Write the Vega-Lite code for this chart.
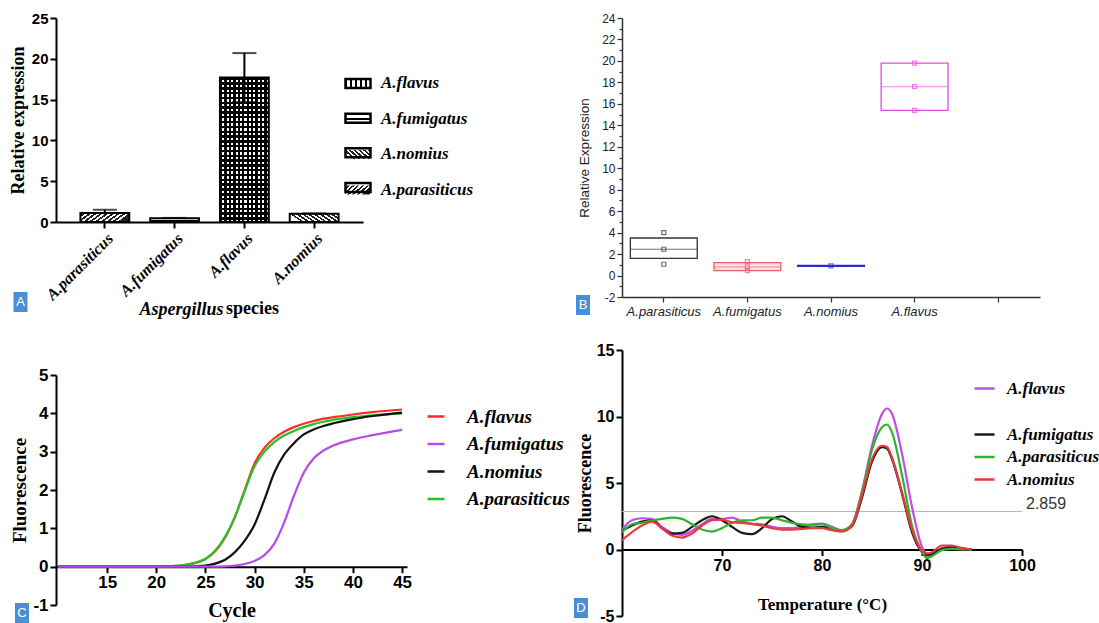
{
"$schema": "https://vega.github.io/schema/vega-lite/v6.json",
"background": "white",
"padding": {"left": 9, "top": 11, "right": 4, "bottom": 0},
"config": {"view": {"stroke": null}, "axis": {"grid": false, "domainColor": "black", "tickColor": "black", "labelColor": "black", "titleColor": "black", "labelFlush": false}, "legend": {"padding": 0, "titlePadding": 0}},
"datasets": {
"expr": [
{"species": "A.parasiticus", "mean": 1.1, "lo": 1.1, "hi": 1.5},
{"species": "A.fumigatus", "mean": 0.45, "lo": 0.45, "hi": 0.5},
{"species": "A.flavus", "mean": 17.7, "lo": 14.7, "hi": 20.7},
{"species": "A.nomius", "mean": 1.0, "lo": 1.0, "hi": 1.05}
],
"box": [
{"species": "A.parasiticus", "q1": 1.6, "median": 2.45, "q3": 3.5},
{"species": "A.fumigatus", "q1": 0.45, "median": 0.8, "q3": 1.2},
{"species": "A.nomius", "q1": 0.85, "median": 0.9, "q3": 0.95},
{"species": "A.flavus", "q1": 15.4, "median": 17.6, "q3": 19.8}
],
"boxpts": [
{"species": "A.parasiticus", "value": 4.0},
{"species": "A.parasiticus", "value": 2.45},
{"species": "A.parasiticus", "value": 1.05},
{"species": "A.fumigatus", "value": 1.3},
{"species": "A.fumigatus", "value": 0.8},
{"species": "A.fumigatus", "value": 0.45},
{"species": "A.nomius", "value": 0.9},
{"species": "A.flavus", "value": 19.8},
{"species": "A.flavus", "value": 17.6},
{"species": "A.flavus", "value": 15.4}
],
"thr": [{"threshold": 2.859}],
"amp": [
{"species": "A.flavus", "cycle": 10, "fluor": 0},
{"species": "A.flavus", "cycle": 20, "fluor": 0},
{"species": "A.flavus", "cycle": 22, "fluor": 0.02},
{"species": "A.flavus", "cycle": 23, "fluor": 0.05},
{"species": "A.flavus", "cycle": 24, "fluor": 0.1},
{"species": "A.flavus", "cycle": 25, "fluor": 0.2},
{"species": "A.flavus", "cycle": 26, "fluor": 0.4},
{"species": "A.flavus", "cycle": 27, "fluor": 0.76},
{"species": "A.flavus", "cycle": 28, "fluor": 1.3},
{"species": "A.flavus", "cycle": 29, "fluor": 2.0},
{"species": "A.flavus", "cycle": 30, "fluor": 2.7},
{"species": "A.flavus", "cycle": 31, "fluor": 3.1},
{"species": "A.flavus", "cycle": 32, "fluor": 3.35},
{"species": "A.flavus", "cycle": 33, "fluor": 3.52},
{"species": "A.flavus", "cycle": 34, "fluor": 3.64},
{"species": "A.flavus", "cycle": 35, "fluor": 3.73},
{"species": "A.flavus", "cycle": 36, "fluor": 3.8},
{"species": "A.flavus", "cycle": 37, "fluor": 3.86},
{"species": "A.flavus", "cycle": 38, "fluor": 3.9},
{"species": "A.flavus", "cycle": 40, "fluor": 3.97},
{"species": "A.flavus", "cycle": 42, "fluor": 4.03},
{"species": "A.flavus", "cycle": 45, "fluor": 4.1},
{"species": "A.parasiticus", "cycle": 10, "fluor": 0},
{"species": "A.parasiticus", "cycle": 20, "fluor": 0},
{"species": "A.parasiticus", "cycle": 22, "fluor": 0.02},
{"species": "A.parasiticus", "cycle": 23, "fluor": 0.05},
{"species": "A.parasiticus", "cycle": 24, "fluor": 0.1},
{"species": "A.parasiticus", "cycle": 25, "fluor": 0.2},
{"species": "A.parasiticus", "cycle": 26, "fluor": 0.42},
{"species": "A.parasiticus", "cycle": 27, "fluor": 0.78},
{"species": "A.parasiticus", "cycle": 28, "fluor": 1.3},
{"species": "A.parasiticus", "cycle": 29, "fluor": 1.98},
{"species": "A.parasiticus", "cycle": 30, "fluor": 2.62},
{"species": "A.parasiticus", "cycle": 31, "fluor": 3.0},
{"species": "A.parasiticus", "cycle": 32, "fluor": 3.25},
{"species": "A.parasiticus", "cycle": 33, "fluor": 3.42},
{"species": "A.parasiticus", "cycle": 34, "fluor": 3.54},
{"species": "A.parasiticus", "cycle": 35, "fluor": 3.64},
{"species": "A.parasiticus", "cycle": 36, "fluor": 3.72},
{"species": "A.parasiticus", "cycle": 37, "fluor": 3.78},
{"species": "A.parasiticus", "cycle": 38, "fluor": 3.83},
{"species": "A.parasiticus", "cycle": 40, "fluor": 3.9},
{"species": "A.parasiticus", "cycle": 42, "fluor": 3.95},
{"species": "A.parasiticus", "cycle": 45, "fluor": 4.0},
{"species": "A.nomius", "cycle": 10, "fluor": 0},
{"species": "A.nomius", "cycle": 20, "fluor": 0},
{"species": "A.nomius", "cycle": 22, "fluor": 0},
{"species": "A.nomius", "cycle": 23, "fluor": 0},
{"species": "A.nomius", "cycle": 24, "fluor": 0.01},
{"species": "A.nomius", "cycle": 25, "fluor": 0.03},
{"species": "A.nomius", "cycle": 26, "fluor": 0.08},
{"species": "A.nomius", "cycle": 27, "fluor": 0.18},
{"species": "A.nomius", "cycle": 28, "fluor": 0.38},
{"species": "A.nomius", "cycle": 29, "fluor": 0.68},
{"species": "A.nomius", "cycle": 30, "fluor": 1.1},
{"species": "A.nomius", "cycle": 31, "fluor": 1.75},
{"species": "A.nomius", "cycle": 32, "fluor": 2.45},
{"species": "A.nomius", "cycle": 33, "fluor": 2.92},
{"species": "A.nomius", "cycle": 34, "fluor": 3.22},
{"species": "A.nomius", "cycle": 35, "fluor": 3.45},
{"species": "A.nomius", "cycle": 36, "fluor": 3.58},
{"species": "A.nomius", "cycle": 37, "fluor": 3.67},
{"species": "A.nomius", "cycle": 38, "fluor": 3.74},
{"species": "A.nomius", "cycle": 40, "fluor": 3.85},
{"species": "A.nomius", "cycle": 42, "fluor": 3.93},
{"species": "A.nomius", "cycle": 45, "fluor": 4.02},
{"species": "A.fumigatus", "cycle": 10, "fluor": 0},
{"species": "A.fumigatus", "cycle": 20, "fluor": 0},
{"species": "A.fumigatus", "cycle": 22, "fluor": 0},
{"species": "A.fumigatus", "cycle": 23, "fluor": 0},
{"species": "A.fumigatus", "cycle": 24, "fluor": 0},
{"species": "A.fumigatus", "cycle": 25, "fluor": 0},
{"species": "A.fumigatus", "cycle": 26, "fluor": 0},
{"species": "A.fumigatus", "cycle": 27, "fluor": 0.01},
{"species": "A.fumigatus", "cycle": 28, "fluor": 0.03},
{"species": "A.fumigatus", "cycle": 29, "fluor": 0.07},
{"species": "A.fumigatus", "cycle": 30, "fluor": 0.15},
{"species": "A.fumigatus", "cycle": 31, "fluor": 0.3},
{"species": "A.fumigatus", "cycle": 32, "fluor": 0.6},
{"species": "A.fumigatus", "cycle": 33, "fluor": 1.15},
{"species": "A.fumigatus", "cycle": 34, "fluor": 1.85},
{"species": "A.fumigatus", "cycle": 35, "fluor": 2.45},
{"species": "A.fumigatus", "cycle": 36, "fluor": 2.82},
{"species": "A.fumigatus", "cycle": 37, "fluor": 3.03},
{"species": "A.fumigatus", "cycle": 38, "fluor": 3.16},
{"species": "A.fumigatus", "cycle": 40, "fluor": 3.32},
{"species": "A.fumigatus", "cycle": 42, "fluor": 3.43},
{"species": "A.fumigatus", "cycle": 45, "fluor": 3.57}
],
"melt": [
{"species": "A.flavus", "temp": 60, "d": 1.5},
{"species": "A.flavus", "temp": 61, "d": 2.2},
{"species": "A.flavus", "temp": 62, "d": 2.35},
{"species": "A.flavus", "temp": 63, "d": 2.3},
{"species": "A.flavus", "temp": 64, "d": 1.7},
{"species": "A.flavus", "temp": 65, "d": 1.25},
{"species": "A.flavus", "temp": 66, "d": 1.1},
{"species": "A.flavus", "temp": 67, "d": 1.4},
{"species": "A.flavus", "temp": 68, "d": 1.9},
{"species": "A.flavus", "temp": 69, "d": 2.3},
{"species": "A.flavus", "temp": 70, "d": 2.3},
{"species": "A.flavus", "temp": 71, "d": 2.4},
{"species": "A.flavus", "temp": 72, "d": 2.1},
{"species": "A.flavus", "temp": 73, "d": 1.95},
{"species": "A.flavus", "temp": 74, "d": 1.9},
{"species": "A.flavus", "temp": 75, "d": 1.7},
{"species": "A.flavus", "temp": 76, "d": 1.6},
{"species": "A.flavus", "temp": 77, "d": 1.6},
{"species": "A.flavus", "temp": 78, "d": 1.75},
{"species": "A.flavus", "temp": 79, "d": 1.9},
{"species": "A.flavus", "temp": 80, "d": 1.95},
{"species": "A.flavus", "temp": 81, "d": 1.7},
{"species": "A.flavus", "temp": 82, "d": 1.45},
{"species": "A.flavus", "temp": 83, "d": 1.9},
{"species": "A.flavus", "temp": 84, "d": 4.4},
{"species": "A.flavus", "temp": 85, "d": 7.8},
{"species": "A.flavus", "temp": 86, "d": 10.2},
{"species": "A.flavus", "temp": 86.5, "d": 10.6},
{"species": "A.flavus", "temp": 87, "d": 10.2},
{"species": "A.flavus", "temp": 88, "d": 7.2},
{"species": "A.flavus", "temp": 89, "d": 3.2},
{"species": "A.flavus", "temp": 90, "d": 0.2},
{"species": "A.flavus", "temp": 90.5, "d": -0.3},
{"species": "A.flavus", "temp": 91, "d": -0.35},
{"species": "A.flavus", "temp": 92, "d": 0.1},
{"species": "A.flavus", "temp": 93, "d": 0.2},
{"species": "A.flavus", "temp": 94, "d": 0.1},
{"species": "A.flavus", "temp": 95, "d": 0},
{"species": "A.fumigatus", "temp": 60, "d": 1.4},
{"species": "A.fumigatus", "temp": 61, "d": 1.8},
{"species": "A.fumigatus", "temp": 62, "d": 2.1},
{"species": "A.fumigatus", "temp": 63, "d": 2.2},
{"species": "A.fumigatus", "temp": 64, "d": 1.6},
{"species": "A.fumigatus", "temp": 65, "d": 1.2},
{"species": "A.fumigatus", "temp": 66, "d": 1.25},
{"species": "A.fumigatus", "temp": 67, "d": 1.7},
{"species": "A.fumigatus", "temp": 68, "d": 2.2},
{"species": "A.fumigatus", "temp": 69, "d": 2.5},
{"species": "A.fumigatus", "temp": 70, "d": 2.2},
{"species": "A.fumigatus", "temp": 71, "d": 1.7},
{"species": "A.fumigatus", "temp": 72, "d": 1.25},
{"species": "A.fumigatus", "temp": 73, "d": 1.15},
{"species": "A.fumigatus", "temp": 74, "d": 1.6},
{"species": "A.fumigatus", "temp": 75, "d": 2.3},
{"species": "A.fumigatus", "temp": 76, "d": 2.5},
{"species": "A.fumigatus", "temp": 77, "d": 2.1},
{"species": "A.fumigatus", "temp": 78, "d": 1.7},
{"species": "A.fumigatus", "temp": 79, "d": 1.65},
{"species": "A.fumigatus", "temp": 80, "d": 1.7},
{"species": "A.fumigatus", "temp": 81, "d": 1.55},
{"species": "A.fumigatus", "temp": 82, "d": 1.4},
{"species": "A.fumigatus", "temp": 83, "d": 1.75},
{"species": "A.fumigatus", "temp": 84, "d": 3.9},
{"species": "A.fumigatus", "temp": 85, "d": 6.6},
{"species": "A.fumigatus", "temp": 86, "d": 7.7},
{"species": "A.fumigatus", "temp": 86.5, "d": 7.6},
{"species": "A.fumigatus", "temp": 87, "d": 6.8},
{"species": "A.fumigatus", "temp": 88, "d": 4.2},
{"species": "A.fumigatus", "temp": 89, "d": 1.3},
{"species": "A.fumigatus", "temp": 90, "d": -0.2},
{"species": "A.fumigatus", "temp": 90.5, "d": -0.45},
{"species": "A.fumigatus", "temp": 91, "d": -0.35},
{"species": "A.fumigatus", "temp": 92, "d": 0.05},
{"species": "A.fumigatus", "temp": 93, "d": 0.15},
{"species": "A.fumigatus", "temp": 94, "d": 0.05},
{"species": "A.fumigatus", "temp": 95, "d": 0},
{"species": "A.parasiticus", "temp": 60, "d": 1.3},
{"species": "A.parasiticus", "temp": 61, "d": 1.9},
{"species": "A.parasiticus", "temp": 62, "d": 2.0},
{"species": "A.parasiticus", "temp": 63, "d": 2.2},
{"species": "A.parasiticus", "temp": 64, "d": 2.3},
{"species": "A.parasiticus", "temp": 65, "d": 2.4},
{"species": "A.parasiticus", "temp": 66, "d": 2.3},
{"species": "A.parasiticus", "temp": 67, "d": 1.9},
{"species": "A.parasiticus", "temp": 68, "d": 1.5},
{"species": "A.parasiticus", "temp": 69, "d": 1.35},
{"species": "A.parasiticus", "temp": 70, "d": 1.6},
{"species": "A.parasiticus", "temp": 71, "d": 2.0},
{"species": "A.parasiticus", "temp": 72, "d": 2.2},
{"species": "A.parasiticus", "temp": 73, "d": 2.2},
{"species": "A.parasiticus", "temp": 74, "d": 2.4},
{"species": "A.parasiticus", "temp": 75, "d": 2.4},
{"species": "A.parasiticus", "temp": 76, "d": 2.2},
{"species": "A.parasiticus", "temp": 77, "d": 2.0},
{"species": "A.parasiticus", "temp": 78, "d": 1.9},
{"species": "A.parasiticus", "temp": 79, "d": 1.85},
{"species": "A.parasiticus", "temp": 80, "d": 1.9},
{"species": "A.parasiticus", "temp": 81, "d": 1.6},
{"species": "A.parasiticus", "temp": 82, "d": 1.45},
{"species": "A.parasiticus", "temp": 83, "d": 1.9},
{"species": "A.parasiticus", "temp": 84, "d": 4.3},
{"species": "A.parasiticus", "temp": 85, "d": 7.5},
{"species": "A.parasiticus", "temp": 86, "d": 9.2},
{"species": "A.parasiticus", "temp": 86.5, "d": 9.4},
{"species": "A.parasiticus", "temp": 87, "d": 8.8},
{"species": "A.parasiticus", "temp": 88, "d": 5.6},
{"species": "A.parasiticus", "temp": 89, "d": 1.8},
{"species": "A.parasiticus", "temp": 90, "d": -0.2},
{"species": "A.parasiticus", "temp": 90.5, "d": -0.65},
{"species": "A.parasiticus", "temp": 91, "d": -0.5},
{"species": "A.parasiticus", "temp": 92, "d": -0.05},
{"species": "A.parasiticus", "temp": 93, "d": 0.05},
{"species": "A.parasiticus", "temp": 94, "d": 0.0},
{"species": "A.parasiticus", "temp": 95, "d": 0},
{"species": "A.nomius", "temp": 60, "d": 0.7},
{"species": "A.nomius", "temp": 61, "d": 1.3},
{"species": "A.nomius", "temp": 62, "d": 1.8},
{"species": "A.nomius", "temp": 63, "d": 2.1},
{"species": "A.nomius", "temp": 64, "d": 1.6},
{"species": "A.nomius", "temp": 65, "d": 1.05},
{"species": "A.nomius", "temp": 66, "d": 0.9},
{"species": "A.nomius", "temp": 67, "d": 1.2},
{"species": "A.nomius", "temp": 68, "d": 1.8},
{"species": "A.nomius", "temp": 69, "d": 2.2},
{"species": "A.nomius", "temp": 70, "d": 2.25},
{"species": "A.nomius", "temp": 71, "d": 2.05},
{"species": "A.nomius", "temp": 72, "d": 2.0},
{"species": "A.nomius", "temp": 73, "d": 1.9},
{"species": "A.nomius", "temp": 74, "d": 1.8},
{"species": "A.nomius", "temp": 75, "d": 1.6},
{"species": "A.nomius", "temp": 76, "d": 1.5},
{"species": "A.nomius", "temp": 77, "d": 1.5},
{"species": "A.nomius", "temp": 78, "d": 1.55},
{"species": "A.nomius", "temp": 79, "d": 1.6},
{"species": "A.nomius", "temp": 80, "d": 1.6},
{"species": "A.nomius", "temp": 81, "d": 1.45},
{"species": "A.nomius", "temp": 82, "d": 1.35},
{"species": "A.nomius", "temp": 83, "d": 1.8},
{"species": "A.nomius", "temp": 84, "d": 4.1},
{"species": "A.nomius", "temp": 85, "d": 6.8},
{"species": "A.nomius", "temp": 86, "d": 7.8},
{"species": "A.nomius", "temp": 86.5, "d": 7.7},
{"species": "A.nomius", "temp": 87, "d": 6.9},
{"species": "A.nomius", "temp": 88, "d": 4.3},
{"species": "A.nomius", "temp": 89, "d": 1.5},
{"species": "A.nomius", "temp": 90, "d": -0.1},
{"species": "A.nomius", "temp": 90.5, "d": -0.3},
{"species": "A.nomius", "temp": 91, "d": -0.2},
{"species": "A.nomius", "temp": 92, "d": 0.3},
{"species": "A.nomius", "temp": 93, "d": 0.3},
{"species": "A.nomius", "temp": 94, "d": 0.1},
{"species": "A.nomius", "temp": 95, "d": 0}
]
},
"bounds": "flush",
"spacing": 566,
"resolve": {"scale": {"color": "independent", "fill": "independent", "stroke": "independent", "shape": "independent"}, "legend": {"color": "independent", "fill": "independent", "stroke": "independent", "shape": "independent"}},
"hconcat": [
{"bounds": "flush", "spacing": 153,
 "resolve": {"scale": {"color": "independent", "fill": "independent", "stroke": "independent", "shape": "independent"}, "legend": {"color": "independent", "fill": "independent", "stroke": "independent", "shape": "independent"}},
 "vconcat": [
{
"width": 307, "height": 204,
"title": {"text": "species", "orient": "bottom", "anchor": "start", "frame": "group", "dx": 170, "dy": -18, "offset": 0, "font": "Liberation Serif", "fontSize": 18, "fontWeight": "bold", "color": "black"},
"resolve": {"scale": {"shape": "independent"}, "legend": {"shape": "independent"}},
"layer": [
{"data": {"name": "expr"},
 "mark": {"type": "bar", "stroke": "black", "strokeWidth": 2},
 "encoding": {
  "x": {"field": "species", "type": "nominal", "title": "Aspergillus", "scale": {"domain": ["A.parasiticus", "A.fumigatus", "A.flavus", "A.nomius"], "paddingInner": 0.3, "paddingOuter": 0.35},
   "axis": {"labelAngle": -45, "labelFont": "Liberation Serif", "labelFontStyle": "italic", "labelFontWeight": "bold", "labelFontSize": 16, "labelPadding": 2, "tickSize": 6, "tickWidth": 2, "domainWidth": 2, "titleX": 125, "titleY": 87, "titleAlign": "center", "titleBaseline": "middle", "titleFont": "Liberation Serif", "titleFontStyle": "italic", "titleFontWeight": "bold", "titleFontSize": 18}},
  "y": {"field": "mean", "type": "quantitative", "title": "Relative expression", "scale": {"domain": [0, 25], "nice": false},
   "axis": {"values": [0, 5, 10, 15, 20, 25], "labelFont": "Liberation Sans", "labelFontWeight": "bold", "labelFontSize": 15, "labelPadding": 2, "tickSize": 6, "tickWidth": 2, "domainWidth": 2, "titleFont": "Liberation Serif", "titleFontWeight": "bold", "titleFontSize": 18, "titlePadding": 4}},
  "fill": {"condition": [
    {"test": "datum.species === 'A.flavus'", "value": {"gradient": "linear", "x1": 0, "y1": 0, "x2": 0, "y2": 1, "stops": [
{"offset":0,"color":"#000"},{"offset":0.0167,"color":"#000"},{"offset":0.0167,"color":"#fff"},{"offset":0.0333,"color":"#fff"},
{"offset":0.0333,"color":"#000"},{"offset":0.05,"color":"#000"},{"offset":0.05,"color":"#fff"},{"offset":0.0667,"color":"#fff"},
{"offset":0.0667,"color":"#000"},{"offset":0.0833,"color":"#000"},{"offset":0.0833,"color":"#fff"},{"offset":0.1,"color":"#fff"},
{"offset":0.1,"color":"#000"},{"offset":0.1167,"color":"#000"},{"offset":0.1167,"color":"#fff"},{"offset":0.1333,"color":"#fff"},
{"offset":0.1333,"color":"#000"},{"offset":0.15,"color":"#000"},{"offset":0.15,"color":"#fff"},{"offset":0.1667,"color":"#fff"},
{"offset":0.1667,"color":"#000"},{"offset":0.1833,"color":"#000"},{"offset":0.1833,"color":"#fff"},{"offset":0.2,"color":"#fff"},
{"offset":0.2,"color":"#000"},{"offset":0.2167,"color":"#000"},{"offset":0.2167,"color":"#fff"},{"offset":0.2333,"color":"#fff"},
{"offset":0.2333,"color":"#000"},{"offset":0.25,"color":"#000"},{"offset":0.25,"color":"#fff"},{"offset":0.2667,"color":"#fff"},
{"offset":0.2667,"color":"#000"},{"offset":0.2833,"color":"#000"},{"offset":0.2833,"color":"#fff"},{"offset":0.3,"color":"#fff"},
{"offset":0.3,"color":"#000"},{"offset":0.3167,"color":"#000"},{"offset":0.3167,"color":"#fff"},{"offset":0.3333,"color":"#fff"},
{"offset":0.3333,"color":"#000"},{"offset":0.35,"color":"#000"},{"offset":0.35,"color":"#fff"},{"offset":0.3667,"color":"#fff"},
{"offset":0.3667,"color":"#000"},{"offset":0.3833,"color":"#000"},{"offset":0.3833,"color":"#fff"},{"offset":0.4,"color":"#fff"},
{"offset":0.4,"color":"#000"},{"offset":0.4167,"color":"#000"},{"offset":0.4167,"color":"#fff"},{"offset":0.4333,"color":"#fff"},
{"offset":0.4333,"color":"#000"},{"offset":0.45,"color":"#000"},{"offset":0.45,"color":"#fff"},{"offset":0.4667,"color":"#fff"},
{"offset":0.4667,"color":"#000"},{"offset":0.4833,"color":"#000"},{"offset":0.4833,"color":"#fff"},{"offset":0.5,"color":"#fff"},
{"offset":0.5,"color":"#000"},{"offset":0.5167,"color":"#000"},{"offset":0.5167,"color":"#fff"},{"offset":0.5333,"color":"#fff"},
{"offset":0.5333,"color":"#000"},{"offset":0.55,"color":"#000"},{"offset":0.55,"color":"#fff"},{"offset":0.5667,"color":"#fff"},
{"offset":0.5667,"color":"#000"},{"offset":0.5833,"color":"#000"},{"offset":0.5833,"color":"#fff"},{"offset":0.6,"color":"#fff"},
{"offset":0.6,"color":"#000"},{"offset":0.6167,"color":"#000"},{"offset":0.6167,"color":"#fff"},{"offset":0.6333,"color":"#fff"},
{"offset":0.6333,"color":"#000"},{"offset":0.65,"color":"#000"},{"offset":0.65,"color":"#fff"},{"offset":0.6667,"color":"#fff"},
{"offset":0.6667,"color":"#000"},{"offset":0.6833,"color":"#000"},{"offset":0.6833,"color":"#fff"},{"offset":0.7,"color":"#fff"},
{"offset":0.7,"color":"#000"},{"offset":0.7167,"color":"#000"},{"offset":0.7167,"color":"#fff"},{"offset":0.7333,"color":"#fff"},
{"offset":0.7333,"color":"#000"},{"offset":0.75,"color":"#000"},{"offset":0.75,"color":"#fff"},{"offset":0.7667,"color":"#fff"},
{"offset":0.7667,"color":"#000"},{"offset":0.7833,"color":"#000"},{"offset":0.7833,"color":"#fff"},{"offset":0.8,"color":"#fff"},
{"offset":0.8,"color":"#000"},{"offset":0.8167,"color":"#000"},{"offset":0.8167,"color":"#fff"},{"offset":0.8333,"color":"#fff"},
{"offset":0.8333,"color":"#000"},{"offset":0.85,"color":"#000"},{"offset":0.85,"color":"#fff"},{"offset":0.8667,"color":"#fff"},
{"offset":0.8667,"color":"#000"},{"offset":0.8833,"color":"#000"},{"offset":0.8833,"color":"#fff"},{"offset":0.9,"color":"#fff"},
{"offset":0.9,"color":"#000"},{"offset":0.9167,"color":"#000"},{"offset":0.9167,"color":"#fff"},{"offset":0.9333,"color":"#fff"},
{"offset":0.9333,"color":"#000"},{"offset":0.95,"color":"#000"},{"offset":0.95,"color":"#fff"},{"offset":0.9667,"color":"#fff"},
{"offset":0.9667,"color":"#000"},{"offset":0.9833,"color":"#000"},{"offset":0.9833,"color":"#fff"},{"offset":1,"color":"#fff"}
    ]}},
    {"test": "datum.species === 'A.fumigatus'", "value": {"gradient": "linear", "x1": 0, "y1": 0, "x2": 0, "y2": 1, "stops": [
{"offset":0,"color":"#fff"},{"offset":0.38,"color":"#fff"},{"offset":0.38,"color":"#000"},{"offset":0.62,"color":"#000"},{"offset":0.62,"color":"#fff"},{"offset":1,"color":"#fff"}
    ]}},
    {"test": "datum.species === 'A.nomius'", "value": {"gradient": "linear", "x1": 0, "y1": 0.25, "x2": 1, "y2": 0, "stops": [
{"offset":0,"color":"#fff"},{"offset":0.0556,"color":"#fff"},{"offset":0.0556,"color":"#222"},{"offset":0.1111,"color":"#222"},
{"offset":0.1111,"color":"#fff"},{"offset":0.1667,"color":"#fff"},{"offset":0.1667,"color":"#222"},{"offset":0.2222,"color":"#222"},
{"offset":0.2222,"color":"#fff"},{"offset":0.2778,"color":"#fff"},{"offset":0.2778,"color":"#222"},{"offset":0.3333,"color":"#222"},
{"offset":0.3333,"color":"#fff"},{"offset":0.3889,"color":"#fff"},{"offset":0.3889,"color":"#222"},{"offset":0.4444,"color":"#222"},
{"offset":0.4444,"color":"#fff"},{"offset":0.5,"color":"#fff"},{"offset":0.5,"color":"#222"},{"offset":0.5556,"color":"#222"},
{"offset":0.5556,"color":"#fff"},{"offset":0.6111,"color":"#fff"},{"offset":0.6111,"color":"#222"},{"offset":0.6667,"color":"#222"},
{"offset":0.6667,"color":"#fff"},{"offset":0.7222,"color":"#fff"},{"offset":0.7222,"color":"#222"},{"offset":0.7778,"color":"#222"},
{"offset":0.7778,"color":"#fff"},{"offset":0.8333,"color":"#fff"},{"offset":0.8333,"color":"#222"},{"offset":0.8889,"color":"#222"},
{"offset":0.8889,"color":"#fff"},{"offset":0.9444,"color":"#fff"},{"offset":0.9444,"color":"#222"},{"offset":1,"color":"#222"}
    ]}}
   ],
   "value": {"gradient": "linear", "x1": 0, "y1": 0, "x2": 1, "y2": 0.25, "stops": [
{"offset":0,"color":"#fff"},{"offset":0.0556,"color":"#fff"},{"offset":0.0556,"color":"#222"},{"offset":0.1111,"color":"#222"},
{"offset":0.1111,"color":"#fff"},{"offset":0.1667,"color":"#fff"},{"offset":0.1667,"color":"#222"},{"offset":0.2222,"color":"#222"},
{"offset":0.2222,"color":"#fff"},{"offset":0.2778,"color":"#fff"},{"offset":0.2778,"color":"#222"},{"offset":0.3333,"color":"#222"},
{"offset":0.3333,"color":"#fff"},{"offset":0.3889,"color":"#fff"},{"offset":0.3889,"color":"#222"},{"offset":0.4444,"color":"#222"},
{"offset":0.4444,"color":"#fff"},{"offset":0.5,"color":"#fff"},{"offset":0.5,"color":"#222"},{"offset":0.5556,"color":"#222"},
{"offset":0.5556,"color":"#fff"},{"offset":0.6111,"color":"#fff"},{"offset":0.6111,"color":"#222"},{"offset":0.6667,"color":"#222"},
{"offset":0.6667,"color":"#fff"},{"offset":0.7222,"color":"#fff"},{"offset":0.7222,"color":"#222"},{"offset":0.7778,"color":"#222"},
{"offset":0.7778,"color":"#fff"},{"offset":0.8333,"color":"#fff"},{"offset":0.8333,"color":"#222"},{"offset":0.8889,"color":"#222"},
{"offset":0.8889,"color":"#fff"},{"offset":0.9444,"color":"#fff"},{"offset":0.9444,"color":"#222"},{"offset":1,"color":"#222"}
   ]}}
 }},
{"data": {"name": "expr"}, "transform": [{"filter": "datum.species === 'A.flavus'"}],
 "mark": {"type": "bar", "strokeWidth": 0, "fill": {"gradient": "linear", "x1": 0, "y1": 0, "x2": 1, "y2": 0, "stops": [
{"offset":0,"color":"#000"},{"offset":0.0455,"color":"#000"},{"offset":0.0455,"color":"rgba(0,0,0,0)"},{"offset":0.0909,"color":"rgba(0,0,0,0)"},
{"offset":0.0909,"color":"#000"},{"offset":0.1364,"color":"#000"},{"offset":0.1364,"color":"rgba(0,0,0,0)"},{"offset":0.1818,"color":"rgba(0,0,0,0)"},
{"offset":0.1818,"color":"#000"},{"offset":0.2273,"color":"#000"},{"offset":0.2273,"color":"rgba(0,0,0,0)"},{"offset":0.2727,"color":"rgba(0,0,0,0)"},
{"offset":0.2727,"color":"#000"},{"offset":0.3182,"color":"#000"},{"offset":0.3182,"color":"rgba(0,0,0,0)"},{"offset":0.3636,"color":"rgba(0,0,0,0)"},
{"offset":0.3636,"color":"#000"},{"offset":0.4091,"color":"#000"},{"offset":0.4091,"color":"rgba(0,0,0,0)"},{"offset":0.4545,"color":"rgba(0,0,0,0)"},
{"offset":0.4545,"color":"#000"},{"offset":0.5,"color":"#000"},{"offset":0.5,"color":"rgba(0,0,0,0)"},{"offset":0.5455,"color":"rgba(0,0,0,0)"},
{"offset":0.5455,"color":"#000"},{"offset":0.5909,"color":"#000"},{"offset":0.5909,"color":"rgba(0,0,0,0)"},{"offset":0.6364,"color":"rgba(0,0,0,0)"},
{"offset":0.6364,"color":"#000"},{"offset":0.6818,"color":"#000"},{"offset":0.6818,"color":"rgba(0,0,0,0)"},{"offset":0.7273,"color":"rgba(0,0,0,0)"},
{"offset":0.7273,"color":"#000"},{"offset":0.7727,"color":"#000"},{"offset":0.7727,"color":"rgba(0,0,0,0)"},{"offset":0.8182,"color":"rgba(0,0,0,0)"},
{"offset":0.8182,"color":"#000"},{"offset":0.8636,"color":"#000"},{"offset":0.8636,"color":"rgba(0,0,0,0)"},{"offset":0.9091,"color":"rgba(0,0,0,0)"},
{"offset":0.9091,"color":"#000"},{"offset":0.9545,"color":"#000"},{"offset":0.9545,"color":"rgba(0,0,0,0)"},{"offset":1,"color":"rgba(0,0,0,0)"}
 ]}},
 "encoding": {"x": {"field": "species", "type": "nominal", "title": "Aspergillus"}, "y": {"field": "mean", "type": "quantitative", "title": "Relative expression"}}},
{"data": {"name": "expr"},
 "mark": {"type": "rule", "color": "black", "strokeWidth": 2},
 "encoding": {"x": {"field": "species", "type": "nominal", "title": "Aspergillus"}, "y": {"field": "lo", "type": "quantitative", "title": "Relative expression"}, "y2": {"field": "hi"}}},
{"data": {"name": "expr"},
 "mark": {"type": "tick", "color": "black", "thickness": 2, "size": 24},
 "encoding": {"x": {"field": "species", "type": "nominal", "title": "Aspergillus"}, "y": {"field": "hi", "type": "quantitative", "title": "Relative expression"}}},
{"data": {"name": "expr"}, "transform": [{"filter": "datum.species === 'A.flavus'"}],
 "mark": {"type": "tick", "color": "black", "thickness": 2, "size": 24},
 "encoding": {"x": {"field": "species", "type": "nominal", "title": "Aspergillus"}, "y": {"field": "lo", "type": "quantitative", "title": "Relative expression"}}},
{"data": {"name": "expr"}, "transform": [{"filter": "datum.species === 'A.flavus'"}],
 "mark": {"type": "point", "opacity": 0, "filled": true, "fill": {"gradient": "linear", "x1": 0, "y1": 0, "x2": 1, "y2": 0, "stops": [
{"offset":0,"color":"#000"},{"offset":0.1,"color":"#000"},{"offset":0.1,"color":"#fff"},{"offset":0.2,"color":"#fff"},
{"offset":0.2,"color":"#000"},{"offset":0.3,"color":"#000"},{"offset":0.3,"color":"#fff"},{"offset":0.4,"color":"#fff"},
{"offset":0.4,"color":"#000"},{"offset":0.5,"color":"#000"},{"offset":0.5,"color":"#fff"},{"offset":0.6,"color":"#fff"},
{"offset":0.6,"color":"#000"},{"offset":0.7,"color":"#000"},{"offset":0.7,"color":"#fff"},{"offset":0.8,"color":"#fff"},
{"offset":0.8,"color":"#000"},{"offset":0.9,"color":"#000"},{"offset":0.9,"color":"#fff"},{"offset":1,"color":"#fff"}
 ]}},
 "encoding": {"shape": {"field": "species", "type": "nominal", "scale": {"range": ["M-1,-0.36H1V0.36H-1Z"]},
  "legend": {"title": null, "orient": "none", "legendX": 288, "legendY": 51.5, "symbolSize": 625, "symbolOpacity": 1, "labelFont": "Liberation Serif", "labelFontStyle": "italic", "labelFontWeight": "bold", "labelFontSize": 17, "labelColor": "black", "labelOffset": 10}}}},
{"data": {"name": "expr"}, "transform": [{"filter": "datum.species === 'A.fumigatus'"}],
 "mark": {"type": "point", "opacity": 0, "filled": true, "fill": {"gradient": "linear", "x1": 0, "y1": 0, "x2": 0, "y2": 1, "stops": [
{"offset":0,"color":"#fff"},{"offset":0.38,"color":"#fff"},{"offset":0.38,"color":"#000"},{"offset":0.62,"color":"#000"},{"offset":0.62,"color":"#fff"},{"offset":1,"color":"#fff"}
 ]}},
 "encoding": {"shape": {"field": "species", "type": "nominal", "scale": {"range": ["M-1,-0.36H1V0.36H-1Z"]},
  "legend": {"title": null, "orient": "none", "legendX": 288, "legendY": 87.17, "symbolSize": 625, "symbolOpacity": 1, "labelFont": "Liberation Serif", "labelFontStyle": "italic", "labelFontWeight": "bold", "labelFontSize": 17, "labelColor": "black", "labelOffset": 10}}}},
{"data": {"name": "expr"}, "transform": [{"filter": "datum.species === 'A.nomius'"}],
 "mark": {"type": "point", "opacity": 0, "filled": true, "fill": {"gradient": "linear", "x1": 0, "y1": 0.4, "x2": 1, "y2": 0, "stops": [
{"offset":0,"color":"#fff"},{"offset":0.0833,"color":"#fff"},{"offset":0.0833,"color":"#222"},{"offset":0.1667,"color":"#222"},
{"offset":0.1667,"color":"#fff"},{"offset":0.25,"color":"#fff"},{"offset":0.25,"color":"#222"},{"offset":0.3333,"color":"#222"},
{"offset":0.3333,"color":"#fff"},{"offset":0.4167,"color":"#fff"},{"offset":0.4167,"color":"#222"},{"offset":0.5,"color":"#222"},
{"offset":0.5,"color":"#fff"},{"offset":0.5833,"color":"#fff"},{"offset":0.5833,"color":"#222"},{"offset":0.6667,"color":"#222"},
{"offset":0.6667,"color":"#fff"},{"offset":0.75,"color":"#fff"},{"offset":0.75,"color":"#222"},{"offset":0.8333,"color":"#222"},
{"offset":0.8333,"color":"#fff"},{"offset":0.9167,"color":"#fff"},{"offset":0.9167,"color":"#222"},{"offset":1,"color":"#222"}
 ]}},
 "encoding": {"shape": {"field": "species", "type": "nominal", "scale": {"range": ["M-1,-0.36H1V0.36H-1Z"]},
  "legend": {"title": null, "orient": "none", "legendX": 288, "legendY": 122.83, "symbolSize": 625, "symbolOpacity": 1, "labelFont": "Liberation Serif", "labelFontStyle": "italic", "labelFontWeight": "bold", "labelFontSize": 17, "labelColor": "black", "labelOffset": 10}}}},
{"data": {"name": "expr"}, "transform": [{"filter": "datum.species === 'A.parasiticus'"}],
 "mark": {"type": "point", "opacity": 0, "filled": true, "fill": {"gradient": "linear", "x1": 0, "y1": 0, "x2": 1, "y2": 0.4, "stops": [
{"offset":0,"color":"#fff"},{"offset":0.0833,"color":"#fff"},{"offset":0.0833,"color":"#222"},{"offset":0.1667,"color":"#222"},
{"offset":0.1667,"color":"#fff"},{"offset":0.25,"color":"#fff"},{"offset":0.25,"color":"#222"},{"offset":0.3333,"color":"#222"},
{"offset":0.3333,"color":"#fff"},{"offset":0.4167,"color":"#fff"},{"offset":0.4167,"color":"#222"},{"offset":0.5,"color":"#222"},
{"offset":0.5,"color":"#fff"},{"offset":0.5833,"color":"#fff"},{"offset":0.5833,"color":"#222"},{"offset":0.6667,"color":"#222"},
{"offset":0.6667,"color":"#fff"},{"offset":0.75,"color":"#fff"},{"offset":0.75,"color":"#222"},{"offset":0.8333,"color":"#222"},
{"offset":0.8333,"color":"#fff"},{"offset":0.9167,"color":"#fff"},{"offset":0.9167,"color":"#222"},{"offset":1,"color":"#222"}
 ]}},
 "encoding": {"shape": {"field": "species", "type": "nominal", "scale": {"range": ["M-1,-0.36H1V0.36H-1Z"]},
  "legend": {"title": null, "orient": "none", "legendX": 288, "legendY": 158.5, "symbolSize": 625, "symbolOpacity": 1, "labelFont": "Liberation Serif", "labelFontStyle": "italic", "labelFontWeight": "bold", "labelFontSize": 17, "labelColor": "black", "labelOffset": 10}}}},
{"data": {"name": "expr"},
 "mark": {"type": "point", "opacity": 0, "filled": false, "color": "black", "strokeWidth": 2.5},
 "encoding": {"shape": {"field": "species", "type": "nominal", "scale": {"domain": ["A.flavus", "A.fumigatus", "A.nomius", "A.parasiticus"], "range": ["M-1,-0.36H1V0.36H-1Z"]},
  "legend": {"title": null, "orient": "none", "legendX": 288, "legendY": 51.5, "symbolSize": 625, "symbolOpacity": 1, "symbolStrokeWidth": 2.5, "symbolStrokeColor": "black", "labelExpr": "''", "labelOpacity": 0, "labelFontSize": 17, "labelOffset": 10, "rowPadding": 10.67}}}},
{"data": {"values": [{"panel": "A"}]},
 "mark": {"type": "point", "opacity": 0, "filled": true, "color": "#4a8fd6"},
 "encoding": {"shape": {"field": "panel", "type": "nominal", "scale": {"range": ["M-0.7,-1H0.7V1H-0.7Z"]},
  "legend": {"title": null, "orient": "none", "legendX": -45.5, "legendY": 274, "symbolSize": 400, "symbolOpacity": 1, "symbolFillColor": "#4a8fd6", "symbolStrokeWidth": 0, "labelColor": "white", "labelFont": "Liberation Sans", "labelFontSize": 13, "labelAlign": "center", "labelOffset": -10}}}}
]
},
{
"width": 351, "height": 230,
"resolve": {"scale": {"shape": "independent"}, "legend": {"shape": "independent"}},
"layer": [
{"data": {"name": "amp"},
 "mark": {"type": "line", "strokeWidth": 2.2, "interpolate": "monotone"},
 "encoding": {
  "x": {"field": "cycle", "type": "quantitative", "title": "Cycle", "scale": {"domain": [9.8, 45.5], "nice": false, "zero": false},
   "axis": {"values": [15, 20, 25, 30, 35, 40, 45], "offset": -38.33, "labelFont": "Liberation Sans", "labelFontWeight": "bold", "labelFontSize": 17, "labelPadding": 2, "tickSize": 6, "tickWidth": 2, "domainWidth": 2, "titleFont": "Liberation Serif", "titleFontWeight": "bold", "titleFontSize": 20, "titlePadding": 10}},
  "y": {"field": "fluor", "type": "quantitative", "title": "Fluorescence", "scale": {"domain": [-1, 5], "nice": false},
   "axis": {"values": [-1, 0, 1, 2, 3, 4, 5], "labelExpr": "'' + datum.value", "labelFont": "Liberation Sans", "labelFontWeight": "bold", "labelFontSize": 17, "labelPadding": 2, "tickSize": 6, "tickWidth": 2, "domainWidth": 2, "titleFont": "Liberation Serif", "titleFontWeight": "bold", "titleFontSize": 19, "titlePadding": 3}},
  "color": {"field": "species", "type": "nominal", "scale": {"domain": ["A.flavus", "A.fumigatus", "A.nomius", "A.parasiticus"], "range": ["#ff2b2b", "#b54be8", "#111111", "#22c322"]},
   "legend": {"title": null, "orient": "none", "legendX": 370, "legendY": 31.5, "symbolType": "stroke", "symbolSize": 289, "symbolStrokeWidth": 2.5, "labelFont": "Liberation Serif", "labelFontStyle": "italic", "labelFontWeight": "bold", "labelFontSize": 19, "labelColor": "black", "labelOffset": 21, "rowPadding": 7.5}}
 }},
{"data": {"values": [{"panel": "C"}]},
 "mark": {"type": "point", "opacity": 0, "filled": true, "color": "#4a8fd6"},
 "encoding": {"shape": {"field": "panel", "type": "nominal", "scale": {"range": ["M-0.7,-1H0.7V1H-0.7Z"]},
  "legend": {"title": null, "orient": "none", "legendX": -44, "legendY": 228, "symbolSize": 400, "symbolOpacity": 1, "symbolFillColor": "#4a8fd6", "symbolStrokeWidth": 0, "labelColor": "white", "labelFont": "Liberation Sans", "labelFontSize": 13, "labelAlign": "center", "labelOffset": -10}}}}
]
}
]},
{"bounds": "flush", "spacing": 53,
 "resolve": {"scale": {"color": "independent", "fill": "independent", "stroke": "independent", "shape": "independent"}, "legend": {"color": "independent", "fill": "independent", "stroke": "independent", "shape": "independent"}},
 "vconcat": [
{
"width": 418, "height": 279,
"resolve": {"axis": {"y": "independent"}},
"layer": [
{"data": {"name": "box"},
 "mark": {"type": "bar", "strokeWidth": 1.3, "width": {"band": 0.8}},
 "encoding": {
  "x": {"field": "species", "type": "nominal", "title": null, "scale": {"domain": ["A.parasiticus", "A.fumigatus", "A.nomius", "A.flavus", " "], "paddingInner": 0, "paddingOuter": 0},
   "axis": {"labelAngle": 0, "labelFont": "Liberation Sans", "labelFontStyle": "italic", "labelFontSize": 13, "labelColor": "#222", "labelPadding": 3, "tickSize": 5, "tickWidth": 1.2, "tickColor": "#333", "domainColor": "#333", "domainWidth": 1.5}},
  "y": {"field": "q1", "type": "quantitative", "title": "Relative Expression", "scale": {"domain": [-2, 24], "nice": false, "zero": false},
   "axis": {"orient": "left", "values": [-2, 0, 2, 4, 6, 8, 10, 12, 14, 16, 18, 20, 22, 24], "labelExpr": "'' + datum.value", "labelOverlap": false, "tickSize": 5, "tickWidth": 1.2, "tickColor": "#333", "domainColor": "#333", "domainWidth": 1.5, "labelFont": "Liberation Sans", "labelFontSize": 12, "labelColor": "#222", "labelPadding": 2, "titleFont": "Liberation Sans", "titleFontWeight": "normal", "titleFontSize": 13.5, "titleColor": "#222", "titlePadding": 10}},
  "y2": {"field": "q3"},
  "stroke": {"field": "species", "type": "nominal", "scale": {"domain": ["A.parasiticus", "A.fumigatus", "A.nomius", "A.flavus"], "range": ["#333333", "#e8606a", "#2b2bd0", "#e04ce0"]}, "legend": null},
  "fill": {"field": "species", "type": "nominal", "scale": {"domain": ["A.parasiticus", "A.fumigatus", "A.nomius", "A.flavus"], "range": ["#ffffff", "#ffe0e0", "#ffffff", "#ffffff"]}, "legend": null}
 }},
{"data": {"name": "box"},
 "mark": {"type": "tick", "size": 67, "thickness": 1},
 "encoding": {"x": {"field": "species", "type": "nominal", "title": null}, "y": {"field": "median", "type": "quantitative", "title": "Relative Expression", "axis": null},
  "color": {"field": "species", "type": "nominal", "scale": {"domain": ["A.parasiticus", "A.fumigatus", "A.nomius", "A.flavus"], "range": ["#333333", "#e8606a", "#2b2bd0", "#e04ce0"]}, "legend": null}}},
{"data": {"name": "boxpts"},
 "mark": {"type": "point", "shape": "square", "size": 16, "strokeWidth": 1.2},
 "encoding": {"x": {"field": "species", "type": "nominal", "title": null}, "y": {"field": "value", "type": "quantitative", "title": "Relative Expression", "axis": null},
  "color": {"field": "species", "type": "nominal", "legend": null}}},
{"data": {"name": "boxpts"},
 "mark": {"type": "point", "opacity": 0},
 "encoding": {"x": {"field": "species", "type": "nominal", "title": null}, "y": {"field": "value", "type": "quantitative", "title": null,
  "axis": {"orient": "left", "values": [-1, 1, 3, 5, 7, 9, 11, 13, 15, 17, 19, 21, 23], "labels": false, "domain": false, "title": null, "tickSize": 3, "tickWidth": 1.2, "tickColor": "#333"}}}},
{"data": {"values": [{"panel": "B"}]},
 "mark": {"type": "point", "opacity": 0, "filled": true, "color": "#4a8fd6"},
 "encoding": {"shape": {"field": "panel", "type": "nominal", "scale": {"range": ["M-0.7,-1H0.7V1H-0.7Z"]},
  "legend": {"title": null, "orient": "none", "legendX": -49, "legendY": 277, "symbolSize": 400, "symbolOpacity": 1, "symbolFillColor": "#4a8fd6", "symbolStrokeWidth": 0, "labelColor": "white", "labelFont": "Liberation Sans", "labelFontSize": 13, "labelAlign": "center", "labelOffset": -10}}}}
]
},
{
"width": 400, "height": 266,
"resolve": {"scale": {"shape": "independent"}, "legend": {"shape": "independent"}},
"layer": [
{"data": {"name": "thr"},
 "mark": {"type": "rule", "color": "#f29aab", "strokeWidth": 1},
 "encoding": {"y": {"field": "threshold", "type": "quantitative", "title": "Fluorescence"}}},
{"data": {"name": "thr"},
 "mark": {"type": "text", "align": "left", "baseline": "middle", "font": "Liberation Sans", "fontSize": 16, "color": "#333333"},
 "encoding": {"x": {"datum": 100.4, "type": "quantitative", "title": "Temperature (°C)"}, "y": {"datum": 3.42, "type": "quantitative", "title": "Fluorescence"}, "text": {"field": "threshold", "type": "quantitative", "format": ".3f"}}},
{"data": {"name": "melt"}, "transform": [{"filter": "datum.species === 'A.flavus'"}],
 "mark": {"type": "line", "strokeWidth": 2.2, "interpolate": "monotone"},
 "encoding": {
  "x": {"field": "temp", "type": "quantitative", "title": "Temperature (°C)", "scale": {"domain": [60, 100], "nice": false, "zero": false},
   "axis": {"values": [70, 80, 90, 100], "offset": -66.5, "labelFont": "Liberation Sans", "labelFontWeight": "bold", "labelFontSize": 16, "labelPadding": 2, "tickSize": 6, "tickWidth": 2, "domainWidth": 2, "titleFont": "Liberation Serif", "titleFontWeight": "bold", "titleFontSize": 17, "titlePadding": 23}},
  "y": {"field": "d", "type": "quantitative", "title": "Fluorescence", "scale": {"domain": [-5, 15], "nice": false, "zero": false},
   "axis": {"values": [-5, 0, 5, 10, 15], "labelExpr": "'' + datum.value", "labelFont": "Liberation Sans", "labelFontWeight": "bold", "labelFontSize": 16, "labelPadding": 2, "tickSize": 6, "tickWidth": 2, "domainWidth": 2, "titleFont": "Liberation Serif", "titleFontWeight": "bold", "titleFontSize": 18, "titlePadding": 2}},
  "stroke": {"field": "species", "type": "nominal", "scale": {"domain": ["A.flavus"], "range": ["#c04ee6"]},
   "legend": {"title": null, "orient": "none", "legendX": 351, "legendY": 27, "symbolType": "stroke", "symbolSize": 400, "symbolStrokeWidth": 2.5, "labelFont": "Liberation Serif", "labelFontStyle": "italic", "labelFontWeight": "bold", "labelFontSize": 17, "labelColor": "black", "labelOffset": 11}}
 }},
{"data": {"name": "melt"}, "transform": [{"filter": "datum.species !== 'A.flavus'"}],
 "mark": {"type": "line", "strokeWidth": 2.2, "interpolate": "monotone"},
 "encoding": {
  "x": {"field": "temp", "type": "quantitative", "title": "Temperature (°C)"},
  "y": {"field": "d", "type": "quantitative", "title": "Fluorescence"},
  "color": {"field": "species", "type": "nominal", "scale": {"domain": ["A.fumigatus", "A.parasiticus", "A.nomius"], "range": ["#1a1a1a", "#2cb52c", "#e83a3a"]},
   "legend": {"title": null, "orient": "none", "legendX": 351, "legendY": 73, "symbolType": "stroke", "symbolSize": 400, "symbolStrokeWidth": 2.5, "labelFont": "Liberation Serif", "labelFontStyle": "italic", "labelFontWeight": "bold", "labelFontSize": 17, "labelColor": "black", "labelOffset": 11, "rowPadding": 2.5}}
 }},
{"data": {"values": [{"panel": "D"}]},
 "mark": {"type": "point", "opacity": 0, "filled": true, "color": "#4a8fd6"},
 "encoding": {"shape": {"field": "panel", "type": "nominal", "scale": {"range": ["M-0.7,-1H0.7V1H-0.7Z"]},
  "legend": {"title": null, "orient": "none", "legendX": -51, "legendY": 248, "symbolSize": 400, "symbolOpacity": 1, "symbolFillColor": "#4a8fd6", "symbolStrokeWidth": 0, "labelColor": "white", "labelFont": "Liberation Sans", "labelFontSize": 13, "labelAlign": "center", "labelOffset": -10}}}}
]
}
]}
]
}
